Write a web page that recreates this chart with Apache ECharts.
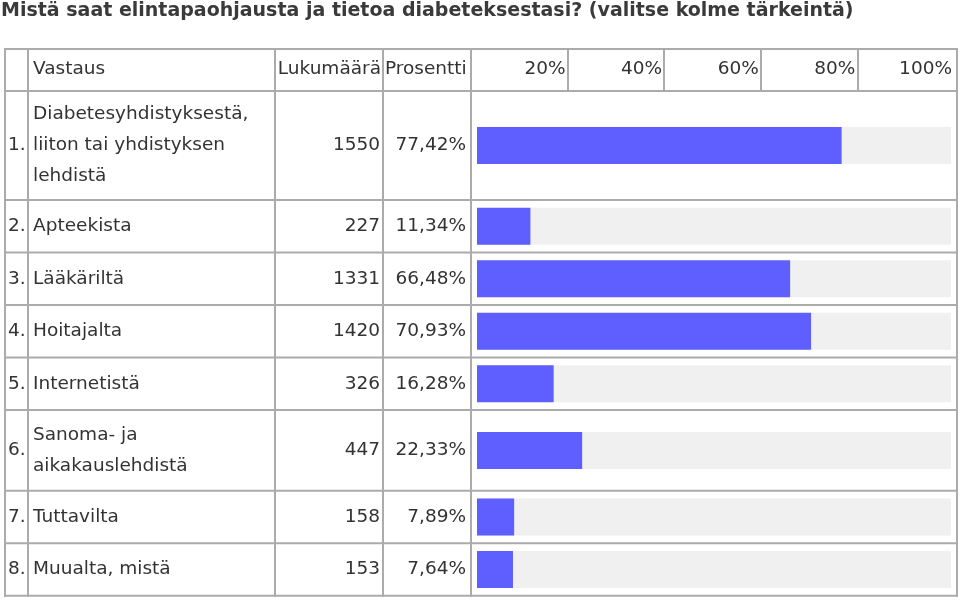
<!DOCTYPE html>
<html><head><meta charset="utf-8">
<script src="https://cdn.jsdelivr.net/npm/echarts@6/dist/echarts.min.js"></script>
<style>html,body{margin:0;padding:0;background:#fff}#c{width:960px;height:600px}</style>
</head><body><div id="c"></div>
<script>
// ---- data ----
const titleText = 'Mistä saat elintapaohjausta ja tietoa diabeteksestasi? (valitse kolme tärkeintä)';
const headers = ['Vastaus', 'Lukumäärä', 'Prosentti'];
const answers = [
  'Diabetesyhdistyksestä,\nliiton tai yhdistyksen\nlehdistä',
  'Apteekista',
  'Lääkäriltä',
  'Hoitajalta',
  'Internetistä',
  'Sanoma- ja\naikakauslehdistä',
  'Tuttavilta',
  'Muualta, mistä'
];
const counts = [1550, 227, 1331, 1420, 326, 447, 158, 153];
const percents = [77.42, 11.34, 66.48, 70.93, 16.28, 22.33, 7.89, 7.64];
const tickValues = [20, 40, 60, 80, 100];
const tickLabels = ['20%', '40%', '60%', '80%', '100%'];

// ---- layout / style ----
const FONT = 'DejaVu Sans';
const FS = 18.5;
const TXT = '#333333';
const LINE = '#ababab';
const LW = 2;
const TABLE_L = 5, TABLE_R = 957;
const TABLE_T = 49, HEAD_B = 91;
const COL_X = [5, 28, 275, 383, 471, 957];
const BAR_H = 37;

const rowH = answers.map(a => 52.5 + 28.25 * (a.split('\n').length - 1));
const starts = [];
let acc = 0;
rowH.forEach(h => { starts.push(acc); acc += h; });
const total = acc;
const TABLE_B = HEAD_B + total;

const fmtPct = v => v.toFixed(2).replace('.', ',') + '%';
const font = (w) => (w || 'normal') + ' ' + FS + 'px "' + FONT + '"';

const chart = echarts.init(document.getElementById('c'), null, {renderer: 'canvas'});

const graphics = [];
// vertical table rules
COL_X.forEach(x => graphics.push({
  type: 'line', shape: {x1: x, y1: TABLE_T - 1, x2: x, y2: TABLE_B + 1},
  style: {stroke: LINE, lineWidth: LW}, z: 10
}));
// top and header-bottom rules
[TABLE_T, HEAD_B].forEach(y => graphics.push({
  type: 'line', shape: {x1: TABLE_L - 1, y1: y, x2: TABLE_R + 1, y2: y},
  style: {stroke: LINE, lineWidth: LW}, z: 10
}));
// header texts
const hy = (TABLE_T + HEAD_B) / 2 - 1;
graphics.push({type: 'text', x: 33, y: hy, style: {text: headers[0], font: font(), fill: TXT, align: 'left', verticalAlign: 'middle'}});
graphics.push({type: 'text', x: 381, y: hy, style: {text: headers[1], font: font(), fill: TXT, align: 'right', verticalAlign: 'middle'}});
graphics.push({type: 'text', x: 385, y: hy, style: {text: headers[2], font: font(), fill: TXT, align: 'left', verticalAlign: 'middle'}});

const option = {
  animation: false,
  backgroundColor: '#ffffff',
  title: {
    text: titleText, left: 1, top: 2, padding: 0,
    textStyle: {fontFamily: FONT, fontSize: 19, fontWeight: 'bold', color: '#3a3a3a'}
  },
  grid: [
    {left: 477, top: HEAD_B, width: 471, height: total},
    {left: 471, top: TABLE_T, width: 483, height: HEAD_B - TABLE_T}
  ],
  xAxis: [
    {gridIndex: 0, type: 'value', min: 0, max: 100, show: false},
    {gridIndex: 1, type: 'value', min: 0, max: 100, interval: 20, position: 'top',
      axisLine: {show: false}, axisTick: {show: false},
      axisLabel: {inside: true, margin: 20, align: 'right', verticalAlign: 'middle', padding: [0, 2, 0, 0],
        fontFamily: FONT, fontSize: FS, color: TXT,
        formatter: v => { const k = tickValues.indexOf(v); return k >= 0 ? tickLabels[k] : ''; }},
      splitLine: {show: true, showMinLine: false, showMaxLine: false, lineStyle: {color: LINE, width: LW}}
    }
  ],
  yAxis: [
    {gridIndex: 0, type: 'value', min: 0, max: total, inverse: true, show: false},
    {gridIndex: 1, type: 'value', min: 0, max: 1, show: false}
  ],
  graphic: graphics,
  series: [{
    type: 'custom',
    xAxisIndex: 0, yAxisIndex: 0,
    clip: false,
    data: answers.map((a, i) => [percents[i], starts[i], starts[i] + rowH[i]]),
    renderItem: (params, api) => {
      const i = params.dataIndex;
      const pct = api.value(0);
      const y0 = api.coord([0, api.value(1)])[1];
      const y1 = api.coord([0, api.value(2)])[1];
      const x0 = api.coord([0, 0])[0];
      const xp = api.coord([pct, 0])[0];
      const x100 = api.coord([100, 0])[0];
      const yc = (y0 + y1) / 2;
      const tstyle = (text, align) => ({text: text, font: font(), fill: TXT, align: align, verticalAlign: 'middle'});
      return {
        type: 'group',
        children: [
          {type: 'rect', shape: {x: x0, y: yc - BAR_H / 2, width: x100 - x0 + 3, height: BAR_H}, style: {fill: '#f0f0f0'}},
          {type: 'rect', shape: {x: x0, y: yc - BAR_H / 2, width: xp - x0, height: BAR_H}, style: {fill: '#5f5fff'}},
          {type: 'text', x: 8, y: yc, style: tstyle((i + 1) + '.', 'left')},
          {type: 'text', x: 33, y: yc, style: Object.assign(tstyle(answers[i], 'left'), {lineHeight: 31})},
          {type: 'text', x: 380, y: yc, style: tstyle(String(counts[i]), 'right')},
          {type: 'text', x: 466, y: yc, style: tstyle(fmtPct(percents[i]), 'right')},
          {type: 'line', shape: {x1: TABLE_L - 1, y1: y1, x2: TABLE_R + 1, y2: y1}, style: {stroke: LINE, lineWidth: LW}}
        ]
      };
    }
  }]
};
chart.setOption(option);
</script>
</body></html>
